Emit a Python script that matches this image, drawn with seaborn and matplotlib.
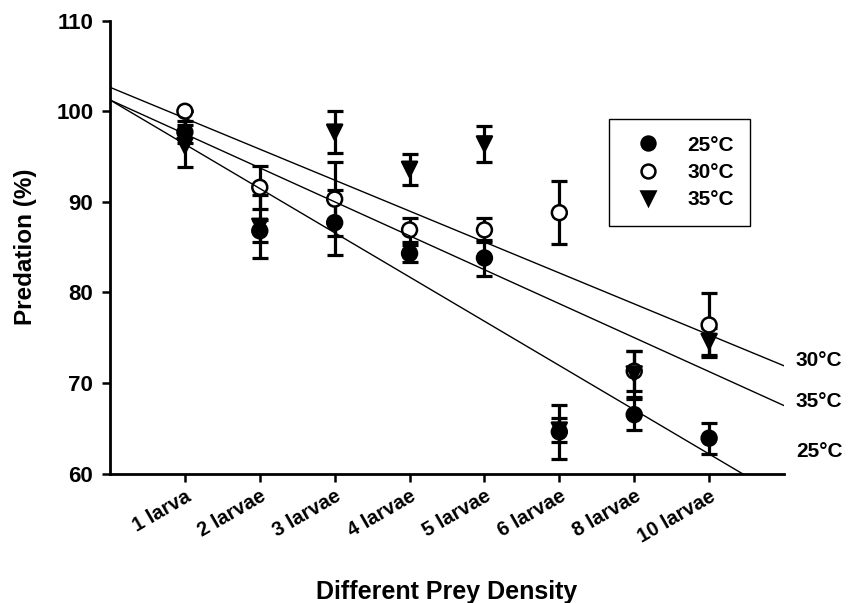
import numpy as np
import pandas as pd
import matplotlib
matplotlib.use("Agg")
import matplotlib.pyplot as plt
import seaborn as sns
from matplotlib.lines import Line2D

# ---- data ----
categories = ['1 larva', '2 larvae', '3 larvae', '4 larvae',
              '5 larvae', '6 larvae', '8 larvae', '10 larvae']
temps = ['25°C', '30°C', '35°C']
mean_25 = [97.7, 86.8, 87.7, 84.3, 83.8, 64.6, 66.5, 63.9]
err_25 = [1.2, 1.2, 3.6, 0.9, 2.0, 3.0, 1.7, 1.7]
mean_30 = [100.0, 91.6, 90.3, 86.9, 86.9, 88.8, 71.3, 76.4]
err_30 = [0.0, 2.4, 4.1, 1.3, 1.3, 3.5, 2.2, 3.5]
mean_35 = [96.2, 87.3, 97.7, 93.6, 96.4, 64.8, 71.0, 74.6]
err_35 = [2.3, 3.5, 2.3, 1.7, 2.0, 1.3, 2.5, 1.5]
# linear fits (value at category index 0, change per category)
fit_intercept = [96.36, 99.23, 97.50]
fit_slope = [-4.887, -3.417, -3.750]
y_ticks = [60, 70, 80, 90, 100, 110]

means = [mean_25, mean_30, mean_35]
errs = [err_25, err_30, err_35]

rows = []
for t, m, e in zip(temps, means, errs):
    for i, (c, mv, ev) in enumerate(zip(categories, m, e)):
        rows.append({'idx': i, 'category': c, 'temp': t, 'pred': mv, 'err': ev})
df = pd.DataFrame(rows)

sns.set_theme(style='ticks')
plt.rcParams['font.family'] = ['Liberation Sans', 'DejaVu Sans']
plt.rcParams['font.weight'] = 'bold'
plt.rcParams['text.color'] = 'black'
plt.rcParams['axes.labelcolor'] = 'black'
plt.rcParams['xtick.color'] = 'black'
plt.rcParams['ytick.color'] = 'black'

fig = plt.figure(figsize=(8.51, 6.03), dpi=100)
ax = fig.add_axes([110/851, 1-473.5/603, (784-110)/851, (473.5-20.7)/603])

face = {'25°C': 'black', '30°C': 'white', '35°C': 'black'}
mk = {'25°C': 'o', '30°C': 'o', '35°C': 'v'}

for t in temps:
    sub = df[df.temp == t]
    ax.errorbar(sub.idx, sub.pred, yerr=sub.err, fmt='none', ecolor='black',
                elinewidth=2.3, capsize=5.6, capthick=2.3, zorder=2)

sns.scatterplot(data=df, x='idx', y='pred', hue='temp', style='temp',
                palette=face, markers=mk, edgecolor='black', linewidth=1.8,
                s=115, ax=ax, zorder=3, legend=False)

xlim = (-1, 8)
xs = np.array(xlim, dtype=float)
for a, b in zip(fit_intercept, fit_slope):
    ax.plot(xs, a + b*xs, color='black', lw=1.0, zorder=4)

ax.set_xlim(*xlim)
ax.set_ylim(60, 110)
ax.set_yticks(y_ticks)
ax.set_yticklabels([str(v) for v in y_ticks], fontsize=16, fontweight='bold',
                   color='black')
ax.set_xticks(range(len(categories)))
ax.set_xticklabels(categories, rotation=30, ha='right', rotation_mode='anchor',
                   fontsize=14.5, fontweight='bold', color='black')
ax.set_xlabel('Different Prey Density', fontsize=18, fontweight='bold',
              labelpad=24, color='black')
ax.set_ylabel('Predation (%)', fontsize=17.5, fontweight='bold', labelpad=14,
              color='black')

sns.despine(ax=ax)
for s in ['left', 'bottom']:
    ax.spines[s].set_linewidth(2.0)
    ax.spines[s].set_color('black')
ax.tick_params(axis='both', direction='out', length=6, width=1.8, colors='black')
ax.tick_params(axis='y', pad=6)
ax.grid(False)

# labels at line ends
end_labels = {'30°C': 72.5, '35°C': 68.0, '25°C': 62.4}
for t, yv in end_labels.items():
    ax.text(8.16, yv, t, fontsize=15, fontweight='bold', ha='left', va='center',
            clip_on=False, color='black')

handles = [Line2D([], [], ls='none', marker=mk[t], markerfacecolor=face[t],
                  markeredgecolor='black', markeredgewidth=1.8, markersize=10)
           for t in temps]
leg = ax.legend(handles, temps, loc='upper left',
                bbox_to_anchor=(609/851, 1-119/603), bbox_transform=fig.transFigure,
                frameon=True, fancybox=False, edgecolor='black', framealpha=1,
                prop={'size': 15, 'weight': 'bold'}, handlelength=2.15,
                handletextpad=0.8, labelspacing=0.4, borderpad=0.8,
                borderaxespad=0, markerfirst=True)
leg.get_frame().set_linewidth(1.0)
leg.get_frame().set_edgecolor('black')
for txt in leg.get_texts():
    txt.set_color('black')

fig.savefig('out.png', dpi=100)
